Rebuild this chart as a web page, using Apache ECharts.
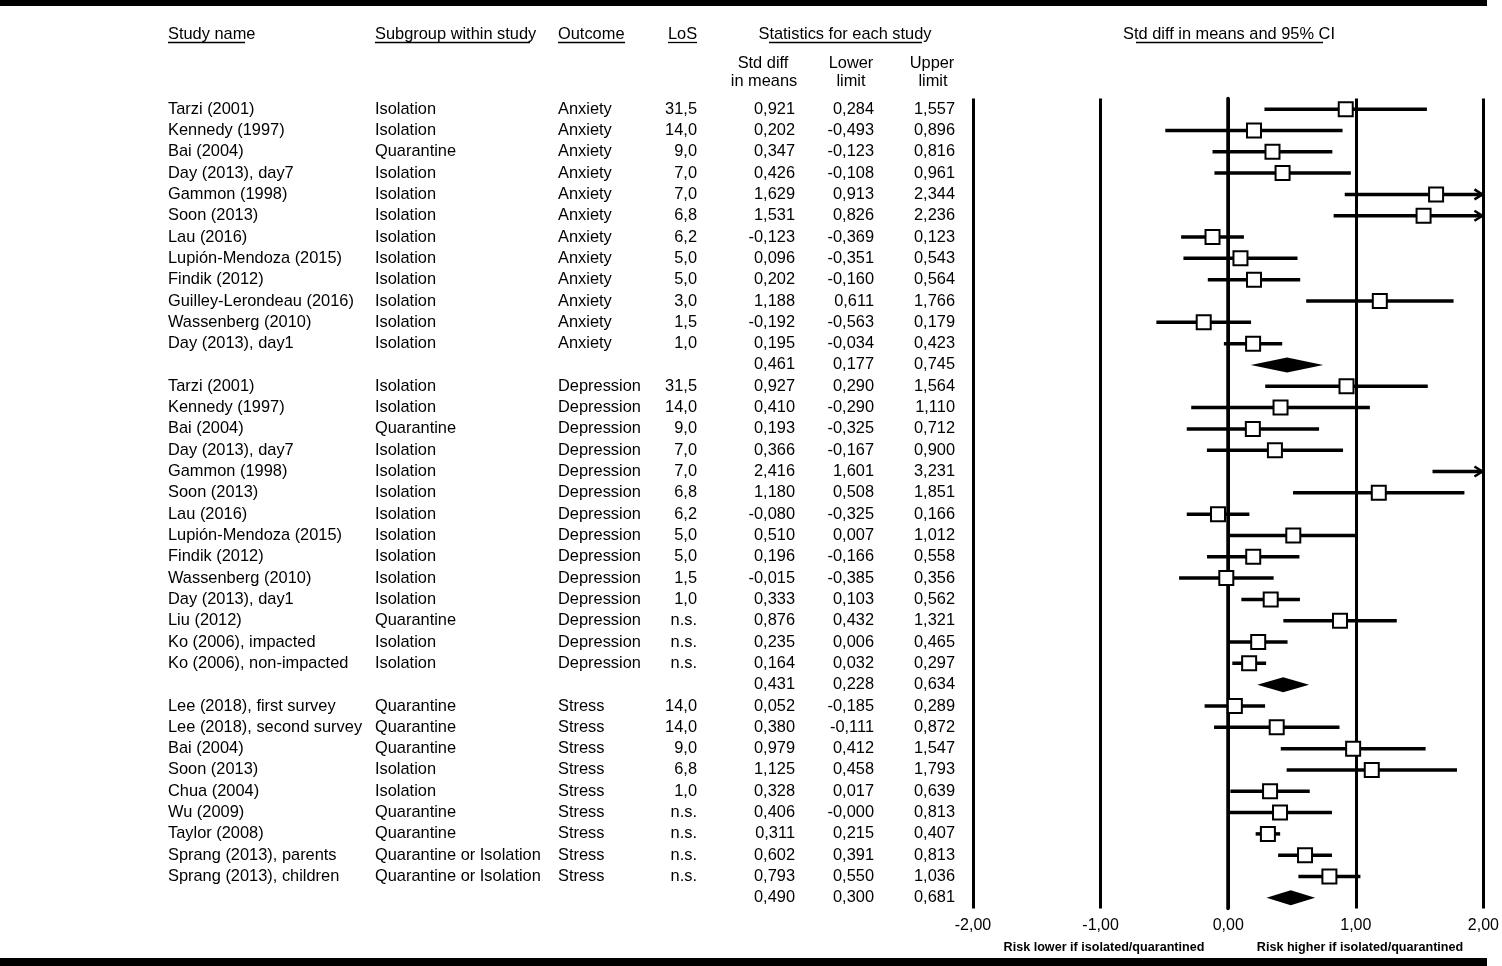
<!DOCTYPE html>
<html><head><meta charset="utf-8">
<script src="https://cdn.jsdelivr.net/npm/echarts@6/dist/echarts.min.js"></script>
<style>html,body{margin:0;padding:0;background:#fff}#c{width:1502px;height:966px}</style>
</head><body><div id="c"></div><script>
const studyNames = [
 'Tarzi (2001)','Kennedy (1997)','Bai (2004)','Day (2013), day7','Gammon (1998)','Soon (2013)','Lau (2016)','Lupión-Mendoza (2015)','Findik (2012)','Guilley-Lerondeau (2016)','Wassenberg (2010)','Day (2013), day1','',
 'Tarzi (2001)','Kennedy (1997)','Bai (2004)','Day (2013), day7','Gammon (1998)','Soon (2013)','Lau (2016)','Lupión-Mendoza (2015)','Findik (2012)','Wassenberg (2010)','Day (2013), day1','Liu (2012)','Ko (2006), impacted','Ko (2006), non-impacted','',
 'Lee (2018), first survey','Lee (2018), second survey','Bai (2004)','Soon (2013)','Chua (2004)','Wu (2009)','Taylor (2008)','Sprang (2013), parents','Sprang (2013), children',''
];
const subgroups = [
 'Isolation','Isolation','Quarantine','Isolation','Isolation','Isolation','Isolation','Isolation','Isolation','Isolation','Isolation','Isolation','',
 'Isolation','Isolation','Quarantine','Isolation','Isolation','Isolation','Isolation','Isolation','Isolation','Isolation','Isolation','Quarantine','Isolation','Isolation','',
 'Quarantine','Quarantine','Quarantine','Isolation','Isolation','Quarantine','Quarantine','Quarantine or Isolation','Quarantine or Isolation',''
];
const outcomes = [
 'Anxiety','Anxiety','Anxiety','Anxiety','Anxiety','Anxiety','Anxiety','Anxiety','Anxiety','Anxiety','Anxiety','Anxiety','',
 'Depression','Depression','Depression','Depression','Depression','Depression','Depression','Depression','Depression','Depression','Depression','Depression','Depression','Depression','',
 'Stress','Stress','Stress','Stress','Stress','Stress','Stress','Stress','Stress',''
];
const losLabels = [
 '31,5','14,0','9,0','7,0','7,0','6,8','6,2','5,0','5,0','3,0','1,5','1,0','',
 '31,5','14,0','9,0','7,0','7,0','6,8','6,2','5,0','5,0','1,5','1,0','n.s.','n.s.','n.s.','',
 '14,0','14,0','9,0','6,8','1,0','n.s.','n.s.','n.s.','n.s.',''
];
const stdDiff = [
 0.921,0.202,0.347,0.426,1.629,1.531,-0.123,0.096,0.202,1.188,-0.192,0.195,0.461,
 0.927,0.410,0.193,0.366,2.416,1.180,-0.080,0.510,0.196,-0.015,0.333,0.876,0.235,0.164,0.431,
 0.052,0.380,0.979,1.125,0.328,0.406,0.311,0.602,0.793,0.490
];
const lowerLimit = [
 0.284,-0.493,-0.123,-0.108,0.913,0.826,-0.369,-0.351,-0.160,0.611,-0.563,-0.034,0.177,
 0.290,-0.290,-0.325,-0.167,1.601,0.508,-0.325,0.007,-0.166,-0.385,0.103,0.432,0.006,0.032,0.228,
 -0.185,-0.111,0.412,0.458,0.017,-0.0004,0.215,0.391,0.550,0.300
];
const upperLimit = [
 1.557,0.896,0.816,0.961,2.344,2.236,0.123,0.543,0.564,1.766,0.179,0.423,0.745,
 1.564,1.110,0.712,0.900,3.231,1.851,0.166,1.012,0.558,0.356,0.562,1.321,0.465,0.297,0.634,
 0.289,0.872,1.547,1.793,0.639,0.813,0.407,0.813,1.036,0.681
];
const isSummary = [
 0,0,0,0,0,0,0,0,0,0,0,0,1,
 0,0,0,0,0,0,0,0,0,0,0,0,0,0,1,
 0,0,0,0,0,0,0,0,0,1
];
const xTicks = [-2, -1, 0, 1, 2];

const FONT = "'Liberation Sans', Arial, sans-serif";
const FS = 16.4;
const rows = studyNames.map((_, i) => i);
const fmt = v => v.toFixed(3).replace('.', ',');
const GL = 973;

function colAxis(arr, x, align) {
  return {
    type: 'category', data: rows, inverse: true, position: 'left', offset: GL - x,
    axisLine: {show: false}, axisTick: {show: false}, splitLine: {show: false},
    axisLabel: {interval: 0, margin: 0, align: align, color: '#000', fontSize: FS, fontFamily: FONT,
      padding: [9, 0, 0, 0], formatter: (v, idx) => arr[idx]}
  };
}

const chart = echarts.init(document.getElementById('c'), null, {renderer: 'canvas'});
const graphic = [];
function txt(t, x, y, align) {
  graphic.push({type: 'text', style: {text: t, x: x, y: y, fill: '#000', font: FS + 'px ' + FONT, textAlign: align, textVerticalAlign: 'middle'}});
}
function hline(x1, x2, y, w) {
  graphic.push({type: 'line', shape: {x1: x1, y1: y, x2: x2, y2: y}, style: {stroke: '#000', lineWidth: w}});
}
hline(0, 1487, 3, 6);
hline(0, 1487, 962, 8);
txt('Study name', 168, 34, 'left');
txt('Subgroup within study', 375, 34, 'left');
txt('Outcome', 558, 34, 'left');
txt('LoS', 668, 34, 'left');
txt('Statistics for each study', 845, 34, 'center');
txt('Std diff in means and 95% CI', 1229, 34, 'center');
hline(168, 245, 42.5, 1.3);
hline(375, 530, 42.5, 1.3);
hline(558, 625, 42.5, 1.3);
hline(668, 697, 42.5, 1.3);
hline(769, 922, 42.5, 1.3);
hline(1136, 1323, 42.5, 1.3);
txt('Std diff', 763, 63, 'center'); txt('in means', 764, 81, 'center');
txt('Lower', 851, 63, 'center'); txt('limit', 851, 81, 'center');
txt('Upper', 932, 63, 'center'); txt('limit', 933, 81, 'center');
graphic.push({type: 'text', style: {text: 'Risk lower if isolated/quarantined', x: 1104, y: 948, fill: '#000', font: 'bold 12.6px ' + FONT, textAlign: 'center', textVerticalAlign: 'middle'}});
graphic.push({type: 'text', style: {text: 'Risk higher if isolated/quarantined', x: 1360, y: 948, fill: '#000', font: 'bold 12.6px ' + FONT, textAlign: 'center', textVerticalAlign: 'middle'}});

function renderItem(params, api) {
  const i = api.value(0), m = api.value(1), lo = api.value(2), hi = api.value(3), s = api.value(4);
  const y = api.coord([0, i])[1];
  const xl = api.coord([Math.max(lo, -2), i])[0];
  const xh = api.coord([Math.min(hi, 2), i])[0];
  const xm = api.coord([m, i])[0];
  const ch = [];
  if (s) {
    const h = 7.5;
    ch.push({type: 'polygon', shape: {points: [[xl, y], [xm, y - h], [xh, y], [xm, y + h]]}, style: {fill: '#000'}});
  } else {
    ch.push({type: 'line', shape: {x1: xl, y1: y, x2: xh, y2: y}, style: {stroke: '#000', lineWidth: 3.5}});
    if (hi > 2) ch.push({type: 'polyline', shape: {points: [[xh - 9, y - 5], [xh - 1, y], [xh - 9, y + 5]]}, style: {stroke: '#000', lineWidth: 2.5, fill: null}});
    if (m >= -2 && m <= 2) ch.push({type: 'rect', shape: {x: xm - 7, y: y - 7, width: 14, height: 14}, style: {fill: '#fff', stroke: '#000', lineWidth: 2}});
  }
  return {type: 'group', children: ch};
}

chart.setOption({
  animation: false,
  backgroundColor: '#fff',
  grid: {left: GL, right: 17, top: 98.5, height: 810, containLabel: false},
  xAxis: {
    type: 'value', min: xTicks[0], max: xTicks[xTicks.length - 1], interval: 1,
    axisLine: {show: false}, axisTick: {show: false},
    splitLine: {show: true, lineStyle: {color: '#000', width: 3}},
    axisLabel: {color: '#000', fontSize: 16, fontFamily: FONT, margin: 9, formatter: v => v.toFixed(2).replace('.', ',')}
  },
  yAxis: [
    {type: 'category', data: rows, inverse: true, axisLine: {show: true, lineStyle: {color: '#000', width: 3.5}}, axisTick: {show: false}, axisLabel: {show: false}, splitLine: {show: false}},
    colAxis(studyNames, 168, 'left'),
    colAxis(subgroups, 375, 'left'),
    colAxis(outcomes, 558, 'left'),
    colAxis(losLabels, 697, 'right'),
    colAxis(stdDiff.map(fmt), 795, 'right'),
    colAxis(lowerLimit.map(fmt), 874, 'right'),
    colAxis(upperLimit.map(fmt), 955, 'right')
  ],
  series: [{
    type: 'custom', renderItem: renderItem, xAxisIndex: 0, yAxisIndex: 0,
    encode: {x: 1, y: 0},
    data: rows.map(i => [i, stdDiff[i], lowerLimit[i], upperLimit[i], isSummary[i]]),
    z: 10
  }],
  graphic: graphic
});
</script></body></html>
